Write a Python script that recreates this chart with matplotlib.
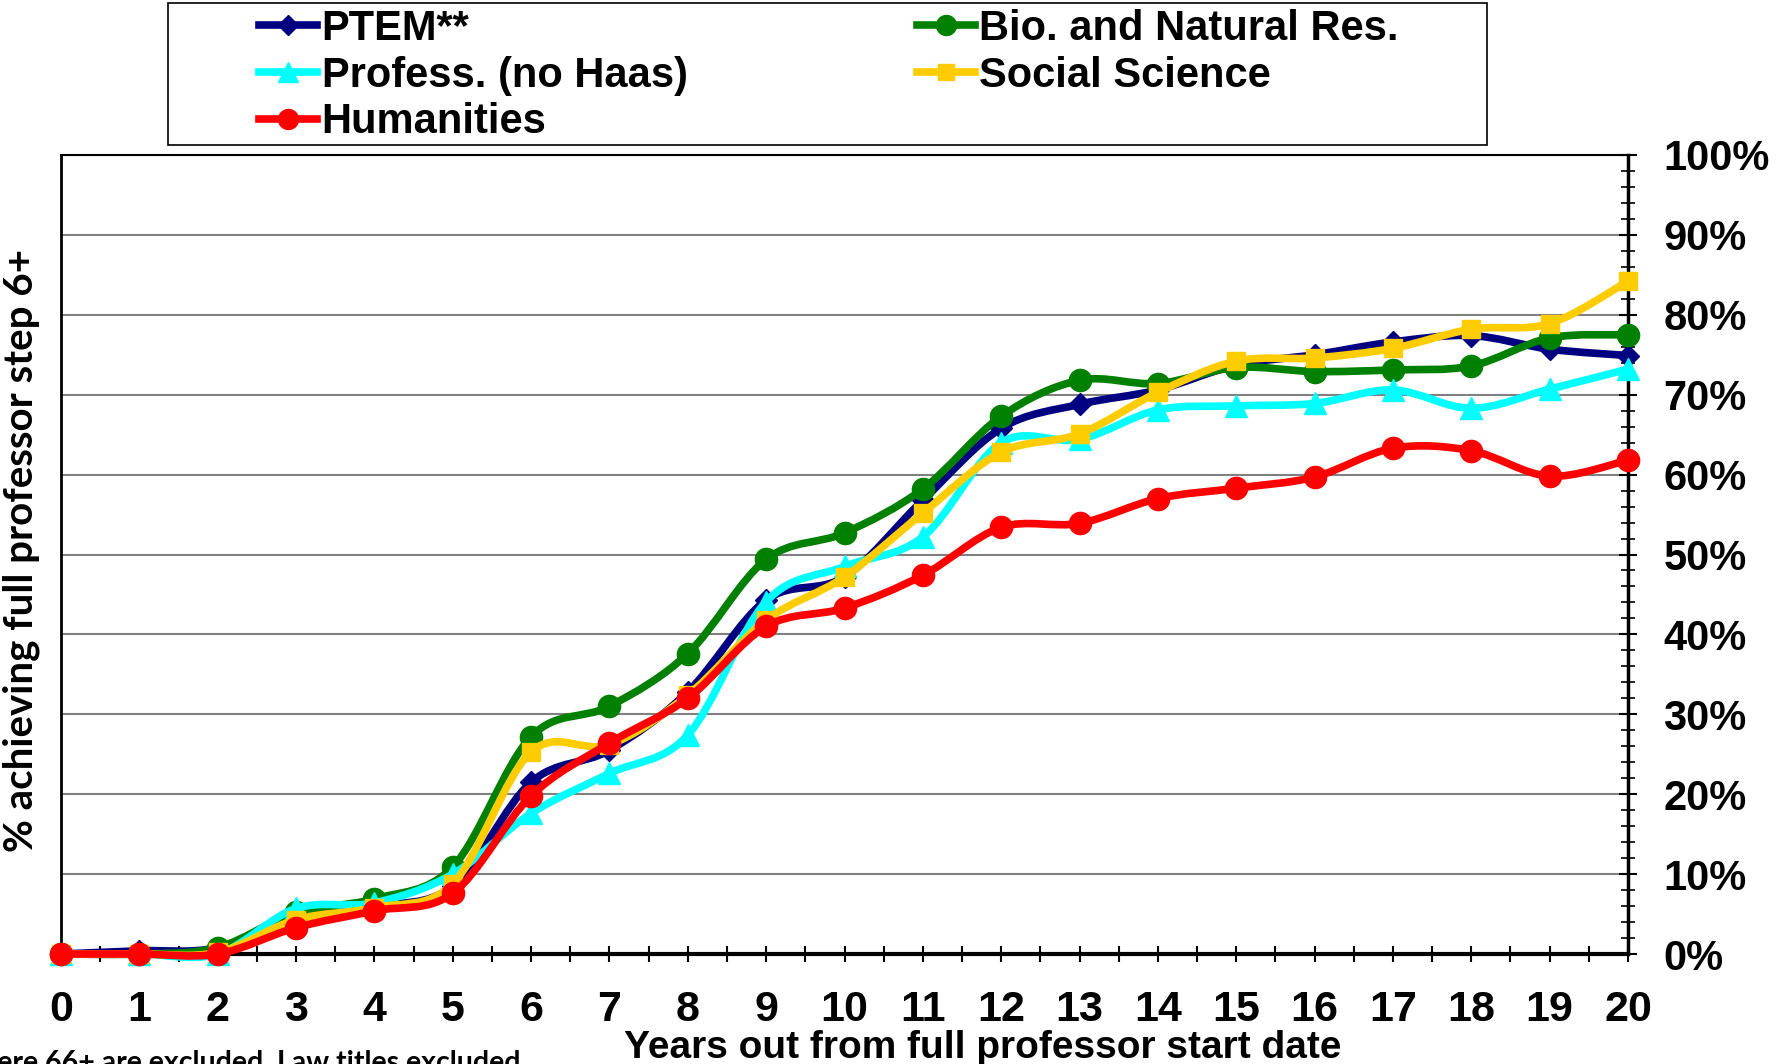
import numpy as np
import matplotlib
matplotlib.use("Agg")
import matplotlib.pyplot as plt
from matplotlib.path import Path
from matplotlib.patches import PathPatch, Rectangle
from matplotlib.lines import Line2D

# data (percent achieving step 6+)
years = list(range(21))
ptem = [0, 0.4, 0.8, 5.0, 6.0, 8.5, 21.5, 25.5, 32.8, 44.3, 47.2, 56.8, 65.8, 68.8, 70.6, 73.7, 75.0, 76.6, 77.4, 75.7, 74.9]
bio = [0, 0, 0.8, 5.2, 6.9, 10.9, 27.2, 31.0, 37.6, 49.4, 52.7, 58.2, 67.3, 71.8, 71.4, 73.4, 72.9, 73.1, 73.6, 77.1, 77.5]
prof = [0, 0, 0, 5.7, 6.4, 10.0, 17.6, 22.6, 27.4, 44.1, 48.5, 52.2, 64.0, 64.4, 68.1, 68.6, 68.9, 70.6, 68.3, 70.7, 73.2]
soc = [0, 0, 0.2, 4.3, 5.8, 8.8, 25.3, 26.2, 32.4, 41.8, 47.2, 55.2, 62.8, 65.1, 70.3, 74.2, 74.6, 75.8, 78.2, 78.9, 84.2]
hum = [0, 0, 0, 3.3, 5.4, 7.6, 19.8, 26.4, 32.0, 41.0, 43.3, 47.4, 53.4, 53.9, 57.0, 58.3, 59.7, 63.3, 63.0, 59.8, 61.8]

series_names = ["PTEM**", "Bio. and Natural Res.", "Profess. (no Haas)", "Social Science", "Humanities"]
ytick_vals = list(range(0, 101, 10))
ytick_labels = [f"{v}%" for v in ytick_vals]

W, H = 1778, 1064


def smooth_path(xs, ys):
    # Excel style smoothed line: bezier segments through every point
    pts = np.column_stack([xs, ys]).astype(float)
    n = len(pts)
    verts = [pts[0]]
    codes = [Path.MOVETO]
    for i in range(n - 1):
        p0 = pts[max(i - 1, 0)]
        p1 = pts[i]
        p2 = pts[i + 1]
        p3 = pts[min(i + 2, n - 1)]
        verts += [p1 + (p2 - p0) / 6, p2 - (p3 - p1) / 6, p2]
        codes += [Path.CURVE4] * 3
    return Path(verts, codes)


fig = plt.figure(figsize=(W / 100, H / 100), dpi=100)
ax = fig.add_axes([61 / W, 1 - 954 / H, (1628 - 61) / W, (954 - 155) / H])

styles = [
    (ptem, "#000080", "D", 11),
    (bio, "#008000", "o", 16),
    (prof, "#00FFFF", "^", 16),
    (soc, "#FFCC00", "s", 13),
    (hum, "#FF0000", "o", 16),
]

handles = []
for k, (vals, col, mk, ms) in enumerate(styles):
    patch = PathPatch(smooth_path(years, vals), facecolor="none", edgecolor=col,
                      lw=5.5, zorder=3 + k, clip_on=False, capstyle="round", joinstyle="round")
    ax.add_patch(patch)
    ax.plot(years, vals, linestyle="none", marker=mk, ms=ms, color=col,
            mec=col, zorder=3 + k, clip_on=False)
    handles.append(Line2D([], [], color=col, lw=5.5, marker=mk, ms=ms * 0.9, mec=col))

ax.set_xlim(0, 20)
ax.set_ylim(0, 100)

ax.set_xticks(years, labels=[str(y) for y in years], fontsize=31,
              fontweight="bold", family="Liberation Sans")
ax.set_xticks(np.arange(0.5, 20, 1), minor=True)
ax.yaxis.tick_right()
ax.set_yticks(ytick_vals, labels=ytick_labels, fontsize=30,
              fontweight="bold", family="Liberation Sans")
ax.set_yticks(np.arange(0, 101, 2), minor=True)

ax.tick_params(axis="x", which="both", direction="inout", length=12, width=1.5, pad=20)
ax.tick_params(axis="y", which="major", direction="inout", length=13, width=1.5, pad=19)
ax.tick_params(axis="y", which="minor", direction="inout", length=10, width=1.2)

ax.grid(axis="y", which="major", color="#808080", lw=1.5, zorder=1)
ax.set_axisbelow(True)

for side, lw in [("left", 2), ("top", 1.5), ("right", 2.5), ("bottom", 3)]:
    ax.spines[side].set_linewidth(lw)
    ax.spines[side].set_color("black")

# legend: two columns, drawn without frame plus a separate box
order = [0, 2, 4, 1, 3]
leg = fig.legend([handles[i] for i in order], [series_names[i] for i in order],
                 ncol=2, loc="upper left", bbox_to_anchor=(259 / W, 1 - 9 / H),
                 frameon=False, borderpad=0, borderaxespad=0,
                 handlelength=1.4, handletextpad=0.1, columnspacing=5.5,
                 labelspacing=0.16,
                 prop={"family": "Liberation Sans", "weight": "bold", "size": 30})
fig.add_artist(Rectangle((168 / W, 1 - 145 / H), (1487 - 168) / W, 142 / H,
                         transform=fig.transFigure, fill=False, ec="black", lw=1.2))

fig.text(21 / W, 1 - 550 / H, "% achieving full professor step 6+", rotation=90,
         ha="center", va="center", fontsize=29, fontweight="bold", family="Lato")
fig.text(983 / W, 1 - 1058 / H, "Years out from full professor start date",
         ha="center", va="baseline", fontsize=28, fontweight="bold", family="Liberation Sans")
fig.text(520 / W, 1 - 1050 / H, "Faculty who were 66+ are excluded. Law titles excluded",
         ha="right", va="top", fontsize=20.5, fontweight="bold", family="Lato")

fig.savefig("out.png", dpi=100)
